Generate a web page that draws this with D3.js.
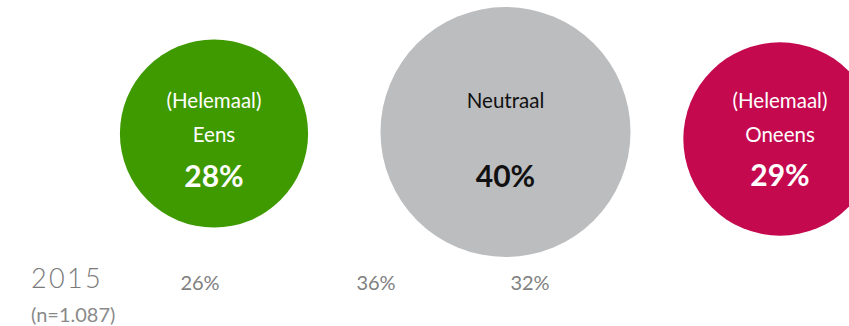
<!DOCTYPE html>
<html><head><meta charset="utf-8">
<script src="https://cdn.jsdelivr.net/npm/d3@7"></script>
<style>html,body{margin:0;padding:0;background:#fff;overflow:hidden}</style>
</head><body>
<svg id="chart" width="849" height="326"></svg>
<script>
const categories = ["eens", "neutraal", "oneens"];
const labelLines = [["(Helemaal)", "Eens"], ["Neutraal"], ["(Helemaal)", "Oneens"]];
const values = [28, 40, 29];
const prevValues = [26, 36, 32];
const prevYear = "2015";
const prevN = "(n=1.087)";

const colors = ["#3f9a00", "#bcbdbf", "#c4094f"];
const textColors = ["#ffffff", "#111111", "#ffffff"];

const svg = d3.select("#chart");
const font = "Lato, 'Open Sans', sans-serif";

const cx = d3.scaleOrdinal().domain(categories).range([214, 505.5, 780]);
const cy = d3.scaleOrdinal().domain(categories).range([133.5, 132, 139]);
const r = d3.scaleLinear().domain([0, 40]).range([22, 125]);
const prevX = d3.scaleOrdinal().domain(categories).range([200, 376, 530]);

const data = categories.map((c, i) => ({c, lines: labelLines[i], v: values[i], p: prevValues[i], col: colors[i], tc: textColors[i]}));

const g = svg.selectAll("g.bubble").data(data).join("g").attr("class", "bubble");
g.append("circle")
  .attr("cx", d => cx(d.c)).attr("cy", d => cy(d.c)).attr("r", d => r(d.v))
  .attr("fill", d => d.col);

g.each(function(d) {
  const s = d3.select(this);
  const x = cx(d.c);
  d.lines.forEach((t, j) => {
    s.append("text").attr("x", x).attr("y", 108 + j * 34)
      .attr("text-anchor", "middle").attr("fill", d.tc)
      .style("font-family", font).style("font-size", "20.5px")
      .text(t);
  });
  s.append("text").attr("x", x).attr("y", d.c === "oneens" ? 185.5 : 186.5)
    .attr("text-anchor", "middle").attr("fill", d.tc)
    .style("font-family", font).style("font-size", "30px").style("font-weight", "bold")
    .text(d.v + "%");
});

svg.append("text").attr("x", 31).attr("y", 288)
  .attr("fill", "#7a7a7a").style("font-family", font).style("font-size", "27px")
  .style("letter-spacing", "2.3px").style("font-weight", "300")
  .text(prevYear);
svg.append("text").attr("x", 31).attr("y", 322)
  .attr("fill", "#8a8a8a").style("font-family", font).style("font-size", "20px")
  .text(prevN);

svg.selectAll("text.prev").data(data).join("text").attr("class", "prev")
  .attr("x", d => prevX(d.c)).attr("y", 289.5)
  .attr("text-anchor", "middle").attr("fill", "#808080")
  .style("font-family", font).style("font-size", "20px")
  .text(d => d.p + "%");
</script>
</body></html>
